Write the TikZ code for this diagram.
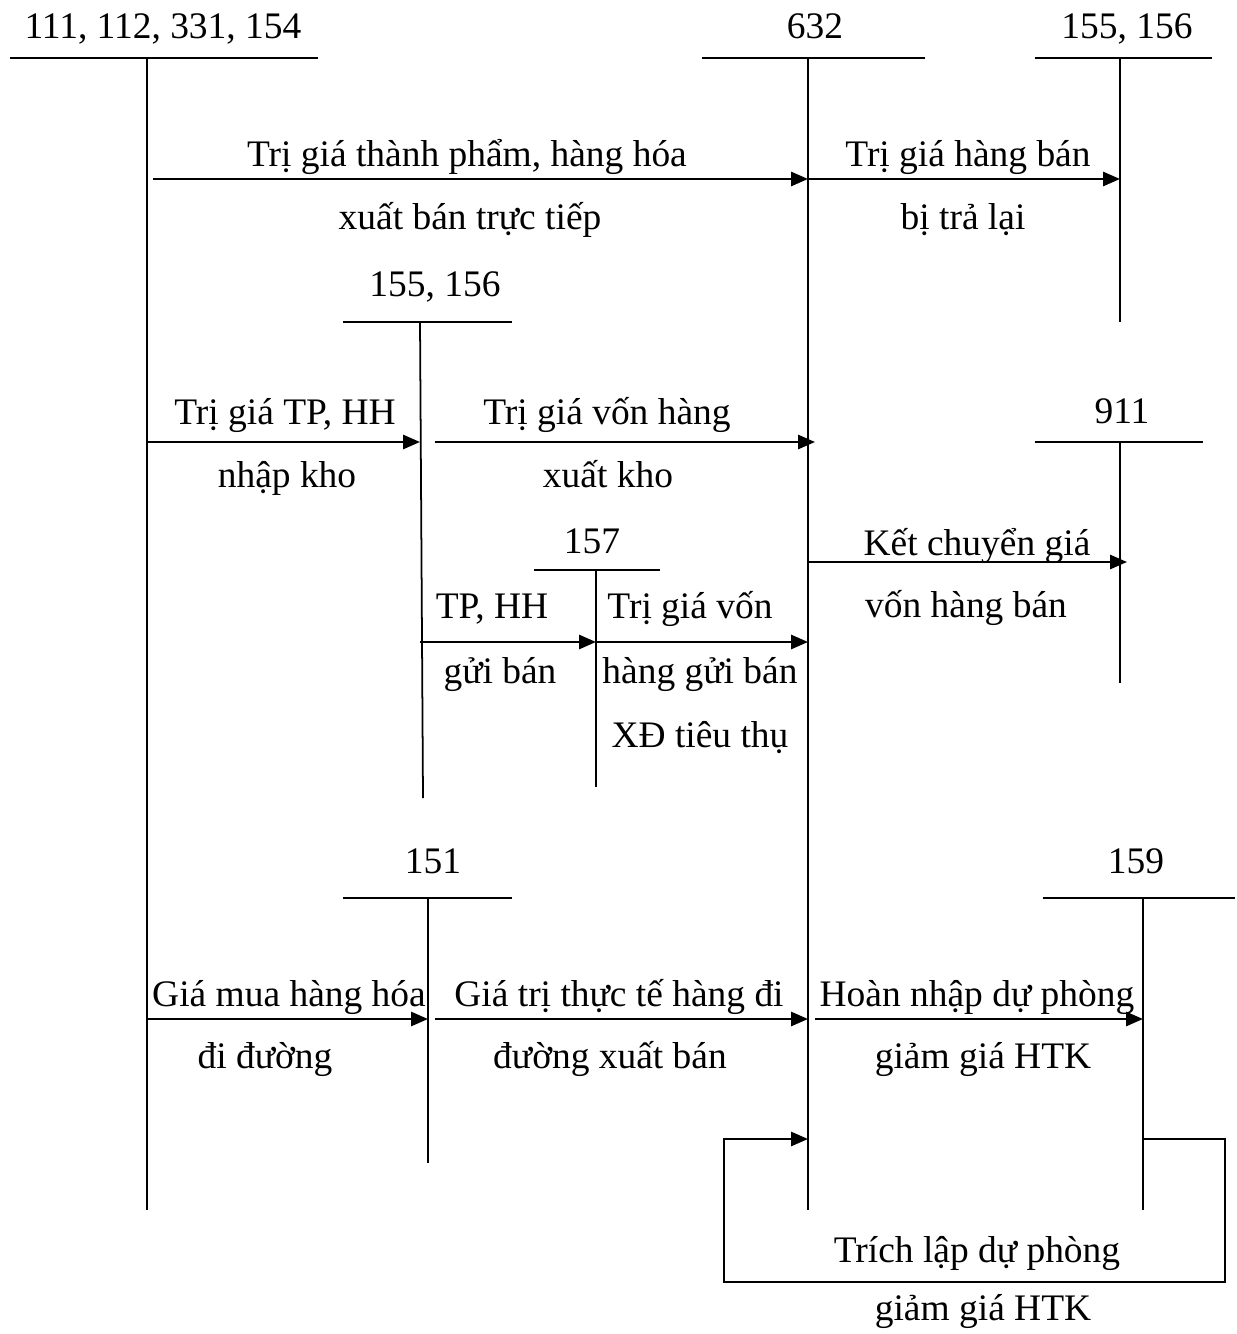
\documentclass[tikz,border=0pt]{standalone}
\usepackage{fontspec}
\setmainfont{Liberation Serif}
\usetikzlibrary{arrows.meta}

\begin{document}
\begin{tikzpicture}[
    x=0.01cm, y=-0.01cm,
    >={Triangle[length=4.8pt, width=4pt]},
    acct/.style={anchor=base, inner sep=0pt,
                 font=\fontsize{10.65}{12}\selectfont},
    note/.style={anchor=base, inner sep=0pt,
                 font=\fontsize{10.65}{12}\selectfont},
    tline/.style={line width=0.5pt},
    flow/.style={->, line width=0.65pt}
  ]
  \useasboundingbox (0,0) rectangle (1237,1334);

  % T-accounts
  \node[acct] (acc111) at (163,39) {111, 112, 331, 154};
  \coordinate (h111l) at (10,58);  \coordinate (h111r) at (318,58);
  \coordinate (v111) at (147,58);  \coordinate (v111e) at (147,1210);
  \draw[tline] (h111l) -- (h111r);
  \draw[tline] (v111) -- (v111e);

  \node[acct] (acc632) at (815,39) {632};
  \coordinate (h632l) at (702,58); \coordinate (h632r) at (925,58);
  \coordinate (v632) at (808,58);  \coordinate (v632e) at (808,1210);
  \draw[tline] (h632l) -- (h632r);
  \draw[tline] (v632) -- (v632e);

  \node[acct] (acc155a) at (1127,39) {155, 156};
  \coordinate (h155al) at (1035,58); \coordinate (h155ar) at (1212,58);
  \coordinate (v155a) at (1120,58);  \coordinate (v155ae) at (1120,322);
  \draw[tline] (h155al) -- (h155ar);
  \draw[tline] (v155a) -- (v155ae);

  \node[acct] (acc155b) at (435,297) {155, 156};
  \coordinate (h155bl) at (343,322); \coordinate (h155br) at (512,322);
  \coordinate (v155b) at (420,322);  \coordinate (v155be) at (423,798);
  \draw[tline] (h155bl) -- (h155br);
  \draw[tline] (v155b) -- (v155be);

  \node[acct] (acc911) at (1122,424) {911};
  \coordinate (h911l) at (1035,442); \coordinate (h911r) at (1203,442);
  \coordinate (v911) at (1120,442);  \coordinate (v911e) at (1120,683);
  \draw[tline] (h911l) -- (h911r);
  \draw[tline] (v911) -- (v911e);

  \node[acct] (acc157) at (592,553) {157};
  \coordinate (h157l) at (534,570); \coordinate (h157r) at (660,570);
  \coordinate (v157) at (596,570);  \coordinate (v157e) at (596,787);
  \draw[tline] (h157l) -- (h157r);
  \draw[tline] (v157) -- (v157e);

  \node[acct] (acc151) at (433,873) {151};
  \coordinate (h151l) at (343,898); \coordinate (h151r) at (512,898);
  \coordinate (v151) at (428,898);  \coordinate (v151e) at (428,1163);
  \draw[tline] (h151l) -- (h151r);
  \draw[tline] (v151) -- (v151e);

  \node[acct] (acc159) at (1136,873) {159};
  \coordinate (h159l) at (1043,898); \coordinate (h159r) at (1235,898);
  \coordinate (v159) at (1143,898);  \coordinate (v159e) at (1143,1210);
  \draw[tline] (h159l) -- (h159r);
  \draw[tline] (v159) -- (v159e);

  % flows
  \coordinate (f1s) at (153,179);  \coordinate (f1e) at (808,179);
  \draw[flow] (f1s) -- (f1e);
  \node[note] (n1a) at (467,167) {Trị giá thành phẩm, hàng hóa};
  \node[note] (n1b) at (470,230) {xuất bán trực tiếp};

  \coordinate (f2s) at (808,179);  \coordinate (f2e) at (1120,179);
  \draw[flow] (f2s) -- (f2e);
  \node[note] (n2a) at (968,167) {Trị giá hàng bán};
  \node[note] (n2b) at (963,230) {bị trả lại};

  \coordinate (f3s) at (147,442);  \coordinate (f3e) at (420,442);
  \draw[flow] (f3s) -- (f3e);
  \node[note] (n3a) at (285,425) {Trị giá TP, HH};
  \node[note] (n3b) at (287,488) {nhập kho};

  \coordinate (f4s) at (435,442);  \coordinate (f4e) at (815,442);
  \draw[flow] (f4s) -- (f4e);
  \node[note] (n4a) at (607,425) {Trị giá vốn hàng};
  \node[note] (n4b) at (608,488) {xuất kho};

  \coordinate (f5s) at (808,562);  \coordinate (f5e) at (1127,562);
  \draw[flow] (f5s) -- (f5e);
  \node[note] (n5a) at (977,555) {Kết chuyển giá};
  \node[note] (n5b) at (966,617) {vốn hàng bán};

  \coordinate (f6s) at (420,642);  \coordinate (f6e) at (596,642);
  \draw[flow] (f6s) -- (f6e);
  \node[note] (n6a) at (492,618) {TP, HH};
  \node[note] (n6b) at (500,683) {gửi bán};

  \coordinate (f7s) at (596,642);  \coordinate (f7e) at (808,642);
  \draw[flow] (f7s) -- (f7e);
  \node[note] (n7a) at (690,618) {Trị giá vốn};
  \node[note] (n7b) at (700,683) {hàng gửi bán};
  \node[note] (n7c) at (700,747) {XĐ tiêu thụ};

  \coordinate (f8s) at (147,1019); \coordinate (f8e) at (428,1019);
  \draw[flow] (f8s) -- (f8e);
  \node[note] (n8a) at (289,1006) {Giá mua hàng hóa};
  \node[note] (n8b) at (265,1068) {đi đường};

  \coordinate (f9s) at (435,1019); \coordinate (f9e) at (808,1019);
  \draw[flow] (f9s) -- (f9e);
  \node[note] (n9a) at (619,1006) {Giá trị thực tế hàng đi};
  \node[note] (n9b) at (610,1068) {đường xuất bán};

  \coordinate (f10s) at (815,1019); \coordinate (f10e) at (1143,1019);
  \draw[flow] (f10s) -- (f10e);
  \node[note] (n10a) at (977,1006) {Hoàn nhập dự phòng};
  \node[note] (n10b) at (983,1068) {giảm giá HTK};

  % loop back to 632
  \coordinate (f11s) at (1143,1139); \coordinate (f11e) at (808,1139);
  \draw[flow] (f11s) -- (1225,1139) -- (1225,1282) -- (724,1282)
    -- (724,1139) -- (f11e);
  \node[note] (n11a) at (977,1262) {Trích lập dự phòng};
  \node[note] (n11b) at (983,1320) {giảm giá HTK};
\end{tikzpicture}
\end{document}
